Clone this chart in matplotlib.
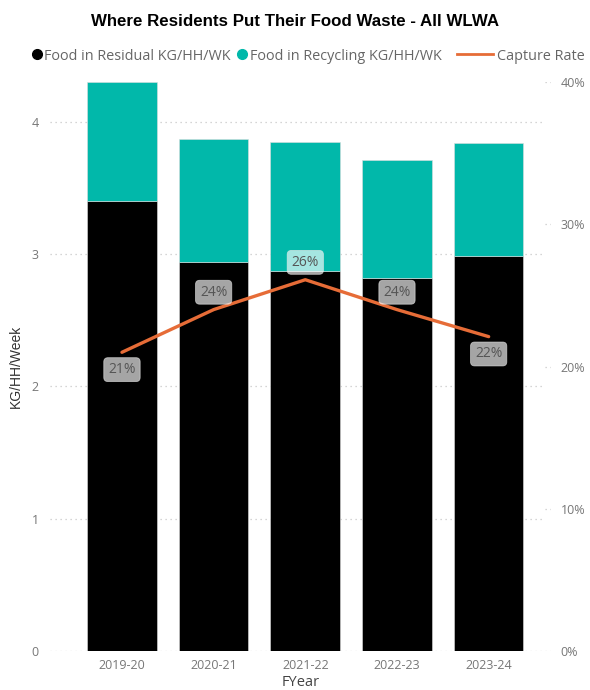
import matplotlib
matplotlib.use("Agg")
import matplotlib.pyplot as plt
from matplotlib.lines import Line2D
from matplotlib.ticker import FuncFormatter, FixedLocator

years = ["2019-20", "2020-21", "2021-22", "2022-23", "2023-24"]
residual = [3.40, 2.94, 2.87, 2.82, 2.99]
recycling = [0.90, 0.93, 0.98, 0.89, 0.85]
capture = [0.21, 0.24, 0.261, 0.24, 0.221]
capture_labels = ["21%", "24%", "26%", "24%", "22%"]
label_above = [False, True, True, True, False]
left_ticks = [0, 1, 2, 3, 4]
right_ticks = [0, 0.1, 0.2, 0.3, 0.4]

BLACK = "#000000"
TEAL = "#01B8AA"
ORANGE = "#E66C37"
TICK = "#777777"
SANS = ["Open Sans", "DejaVu Sans"]
ARIAL = ["Liberation Sans", "DejaVu Sans"]

W, H = 590, 690
fig = plt.figure(figsize=(W / 100, H / 100), dpi=100)
ax = fig.add_axes([50 / W, 39 / H, 501 / W, 569 / H])
x = list(range(len(years)))

ax.bar(x, residual, width=0.76, color=BLACK, edgecolor="#dddddd", linewidth=0.4, zorder=2)
ax.bar(x, recycling, bottom=residual, width=0.76, color=TEAL, edgecolor="#dddddd",
       linewidth=0.4, zorder=2)

ax.set_xlim(-0.785, 4.68)
ax.set_ylim(0, 4.302)
ax.yaxis.set_major_locator(FixedLocator(left_ticks))
for t in left_ticks:
    ax.axhline(t, xmin=0, xmax=0.988, color="#c8c8c8", linestyle=(0, (1, 3)),
               linewidth=0.9, zorder=1)

for s in ax.spines.values():
    s.set_visible(False)
ax.set_xticks(x)
ax.set_xticklabels(years)
ax.tick_params(axis="both", length=0, colors=TICK, labelsize=9)
ax.tick_params(axis="x", pad=6)
ax.tick_params(axis="y", pad=8)
for lab in ax.get_xticklabels() + ax.get_yticklabels():
    lab.set_family(SANS)

ax.set_xlabel("FYear", fontsize=10.5, color="#444444", family=SANS, labelpad=2)
ax.set_ylabel("KG/HH/Week", fontsize=10, color="#333333", family=ARIAL, labelpad=6)

ax2 = ax.twinx()
ax2.set_ylim(0, 0.40)
ax2.yaxis.set_major_locator(FixedLocator(right_ticks))
ax2.yaxis.set_major_formatter(FuncFormatter(lambda v, p: f"{v*100:.0f}%"))
for s in ax2.spines.values():
    s.set_visible(False)
ax2.tick_params(axis="y", length=0, colors=TICK, labelsize=9, pad=7)
for lab in ax2.get_yticklabels():
    lab.set_family(SANS)
for t in right_ticks:
    ax2.axhline(t, xmin=0.988, xmax=1.0, color="#c8c8c8", linestyle=(0, (1, 3)),
                linewidth=0.9, zorder=1)

ax2.plot(x, capture, color=ORANGE, linewidth=2.4, solid_capstyle="round", zorder=3)
for xi, v, lab, up in zip(x, capture, capture_labels, label_above):
    ax2.annotate(lab, (xi, v), xytext=(0, 12.5 if up else -12.5), textcoords="offset points",
                 ha="center", va="center", fontsize=10, color="#555555", family=SANS,
                 bbox=dict(boxstyle="round,pad=0.32,rounding_size=0.3", fc="white",
                           ec="#e8e8e8", lw=0.6, alpha=0.65), zorder=4)

fig.text(0.5, 1 - 21 / H, "Where Residents Put Their Food Waste - All WLWA",
         ha="center", va="center", fontsize=12.2, fontweight="bold",
         family=ARIAL, color="#000000")

# Legend: two marker entries on the left, the line entry on the right
leg_y = 1 - 56 / H
h_markers = [
    Line2D([], [], marker="o", linestyle="none", color=BLACK, markersize=7),
    Line2D([], [], marker="o", linestyle="none", color=TEAL, markersize=7),
]
l_markers = ["Food in Residual KG/HH/WK", "Food in Recycling KG/HH/WK"]
legA = fig.legend(h_markers, l_markers, loc="center left", bbox_to_anchor=(32 / W, leg_y),
                  ncol=2, frameon=False, handletextpad=0.15, columnspacing=0.45,
                  handlelength=0.7, borderpad=0, borderaxespad=0,
                  prop={"family": SANS, "size": 10.4})
legB = fig.legend([Line2D([], [], color=ORANGE, linewidth=2)], ["Capture Rate"],
                  loc="center right", bbox_to_anchor=(585 / W, leg_y), frameon=False,
                  handletextpad=0.3, handlelength=2.5, borderpad=0, borderaxespad=0,
                  prop={"family": SANS, "size": 10.4})
for lg in (legA, legB):
    for t in lg.get_texts():
        t.set_color("#666666")

fig.savefig("out.png", dpi=100)
